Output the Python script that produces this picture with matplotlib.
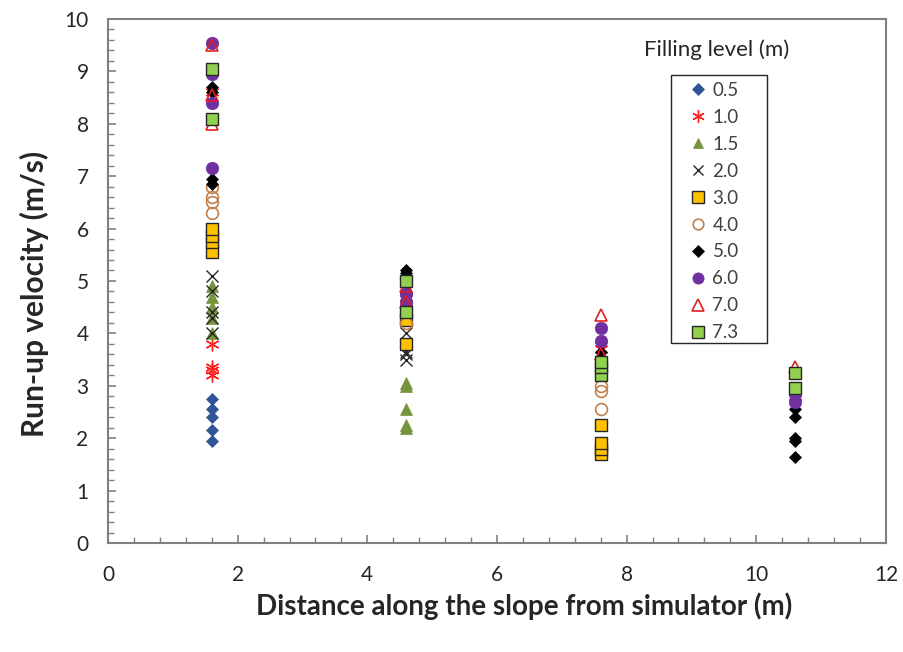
import matplotlib
matplotlib.use("Agg")
import matplotlib.pyplot as plt
from matplotlib.ticker import MultipleLocator
from matplotlib.patches import Rectangle

plt.rcParams['font.family'] = ['Lato', 'DejaVu Sans']

# distances along the slope (m)
x_positions = [1.6, 4.6, 7.6, 10.6]

levels = ["0.5", "1.0", "1.5", "2.0", "3.0", "4.0", "5.0", "6.0", "7.0", "7.3"]

# run-up velocities (m/s) per filling level, as (x, y) lists
v_05_x = [1.6, 1.6, 1.6, 1.6, 1.6]
v_05_y = [1.95, 2.15, 2.4, 2.55, 2.75]
v_10_x = [1.6, 1.6, 1.6, 1.6, 1.6, 4.6, 4.6, 7.6, 10.6]
v_10_y = [3.2, 3.3, 3.35, 3.8, 8.6, 4.7, 4.85, 3.7, 2.8]
v_15_x = [1.6, 1.6, 1.6, 1.6, 1.6, 4.6, 4.6, 4.6, 4.6, 4.6]
v_15_y = [4.0, 4.3, 4.5, 4.7, 4.9, 2.2, 2.25, 2.55, 3.0, 3.05]
v_20_x = [1.6, 1.6, 1.6, 1.6, 1.6, 4.6, 4.6, 4.6, 4.6]
v_20_y = [4.0, 4.3, 4.4, 4.8, 5.1, 3.5, 3.6, 3.65, 4.0]
v_30_x = [1.6, 1.6, 1.6, 1.6, 4.6, 4.6, 7.6, 7.6, 7.6, 7.6]
v_30_y = [5.55, 5.75, 5.85, 6.0, 3.8, 4.25, 1.7, 1.8, 1.9, 2.25]
v_40_x = [1.6, 1.6, 1.6, 1.6, 4.6, 7.6, 7.6, 7.6]
v_40_y = [6.3, 6.5, 6.6, 6.8, 4.2, 2.55, 2.9, 3.0]
v_50_x = [1.6, 1.6, 1.6, 1.6, 4.6, 4.6, 7.6, 10.6, 10.6, 10.6, 10.6, 10.6]
v_50_y = [6.85, 6.95, 8.6, 8.7, 5.15, 5.2, 3.65, 1.65, 1.95, 2.0, 2.4, 2.55]
v_60_x = [1.6, 1.6, 1.6, 1.6, 4.6, 4.6, 4.6, 7.6, 7.6, 10.6, 10.6]
v_60_y = [7.15, 8.4, 8.95, 9.55, 4.5, 4.6, 4.75, 3.85, 4.1, 2.7, 2.85]
v_70_x = [1.6, 1.6, 1.6, 4.6, 4.6, 7.6, 7.6, 10.6]
v_70_y = [8.0, 8.55, 9.5, 4.6, 4.9, 3.6, 4.35, 3.35]
v_73_x = [1.6, 1.6, 4.6, 4.6, 7.6, 7.6, 7.6, 10.6, 10.6]
v_73_y = [8.1, 9.05, 4.4, 5.0, 3.2, 3.35, 3.45, 2.95, 3.25]

series_x = [v_05_x, v_10_x, v_15_x, v_20_x, v_30_x, v_40_x, v_50_x, v_60_x, v_70_x, v_73_x]
series_y = [v_05_y, v_10_y, v_15_y, v_20_y, v_30_y, v_40_y, v_50_y, v_60_y, v_70_y, v_73_y]

styles = [
    dict(marker='D', ms=6.5, mfc='#2F5597', mec='#2F5597', mew=0.5),
    dict(marker=(6, 2, 0), ms=10, mfc='none', mec='#FF2020', mew=1.0),
    dict(marker='^', ms=8.5, mfc='#77933C', mec='#77933C', mew=0.5),
    dict(marker='x', ms=8, mfc='none', mec='#262626', mew=1.0),
    dict(marker='s', ms=9, mfc='#FFC000', mec='#262626', mew=1.0),
    dict(marker='o', ms=8.5, mfc='none', mec='#C0804D', mew=1.2),
    dict(marker='D', ms=6.5, mfc='black', mec='black', mew=0.5),
    dict(marker='o', ms=9, mfc='#7030A0', mec='#7030A0', mew=0.5),
    dict(marker='^', ms=9, mfc='none', mec='#E02020', mew=1.2),
    dict(marker='s', ms=9, mfc='#92D050', mec='#262626', mew=1.0),
]

fig = plt.figure(figsize=(9.04, 6.52), dpi=100)
ax = fig.add_axes([0.1195, 0.1672, 0.8605, 0.8037])

handles = []
for xs, ys, lab, st in zip(series_x, series_y, levels, styles):
    h, = ax.plot(xs, ys, linestyle='none', label=lab, **st)
    handles.append(h)

ax.set_xlim(0, 12)
ax.set_ylim(0, 10)
ax.xaxis.set_major_locator(MultipleLocator(2))
ax.xaxis.set_minor_locator(MultipleLocator(0.4))
ax.yaxis.set_major_locator(MultipleLocator(1))
ax.yaxis.set_minor_locator(MultipleLocator(0.2))
ax.tick_params(which='both', direction='in', color='#808080', top=False, right=False)
ax.tick_params(which='major', length=6, width=1.2, labelsize=15, labelcolor='#262626')
ax.tick_params(axis='x', which='major', pad=16)
ax.tick_params(axis='y', which='major', pad=14)
ax.tick_params(which='minor', length=4, width=1.0)
for s in ax.spines.values():
    s.set_color('#808080')
    s.set_linewidth(1.5)

ax.set_xlabel('Distance along the slope from simulator (m)', fontsize=20, fontweight='bold',
              color='#262626', labelpad=5, x=0.535)
ax.set_ylabel('Run-up velocity (m/s)', fontsize=21.5, fontweight='bold', color='#262626',
              labelpad=11, y=0.475)

# legend frame drawn separately to match the wide box of the original
ax.add_patch(Rectangle((0.7237, 0.3817), 0.1233, 0.5113, transform=ax.transAxes,
                       facecolor='white', edgecolor='#262626', linewidth=1.0, zorder=4))
leg = ax.legend(handles=handles, loc='upper left', bbox_to_anchor=(0.7468, 0.8800),
                fontsize=13.5, frameon=False, borderaxespad=0, borderpad=0,
                handlelength=1.0, handletextpad=0.25, labelspacing=0.53,
                markerscale=0.9)
leg.set_zorder(5)
for t in leg.get_texts():
    t.set_color('#404040')

ax.text(0.783, 0.941, 'Filling level (m)', transform=ax.transAxes, fontsize=16,
        ha='center', va='center', color='#262626')

fig.savefig('out.png', dpi=100)
